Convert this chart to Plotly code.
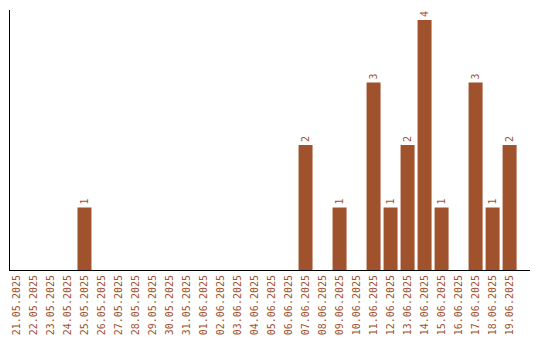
import plotly.graph_objects as go

dates = ["21.05.2025", "22.05.2025", "23.05.2025", "24.05.2025", "25.05.2025",
         "26.05.2025", "27.05.2025", "28.05.2025", "29.05.2025", "30.05.2025",
         "31.05.2025", "01.06.2025", "02.06.2025", "03.06.2025", "04.06.2025",
         "05.06.2025", "06.06.2025", "07.06.2025", "08.06.2025", "09.06.2025",
         "10.06.2025", "11.06.2025", "12.06.2025", "13.06.2025", "14.06.2025",
         "15.06.2025", "16.06.2025", "17.06.2025", "18.06.2025", "19.06.2025"]
counts = [0, 0, 0, 0, 1,
          0, 0, 0, 0, 0,
          0, 0, 0, 0, 0,
          0, 0, 2, 0, 1,
          0, 3, 1, 2, 4,
          1, 0, 3, 1, 2]

color = "#A0522D"
font_family = "DejaVu Sans Mono"

labels = [str(v) if v > 0 else "" for v in counts]

fig = go.Figure(go.Bar(
    x=dates, y=counts,
    marker=dict(color=color, line=dict(width=0)),
    text=labels, textposition="outside", textangle=-90,
    textfont=dict(family=font_family, size=10, color=color),
    constraintext="none", cliponaxis=False,
))

fig.update_layout(
    width=540, height=340,
    margin=dict(l=10, r=10, t=10, b=70, autoexpand=False),
    paper_bgcolor="white", plot_bgcolor="white",
    bargap=3 / 17,
    showlegend=False,
    xaxis=dict(
        type="category", range=[-0.38, 30.2],
        showline=True, linecolor="black", linewidth=1,
        showgrid=False, ticks="", tickangle=-90,
        tickfont=dict(family=font_family, size=10, color=color),
        automargin=False, fixedrange=True,
    ),
    yaxis=dict(
        range=[0, 4.16],
        showline=True, linecolor="black", linewidth=1,
        showgrid=False, zeroline=False, showticklabels=False, ticks="",
        automargin=False, fixedrange=True,
    ),
)

fig.write_html("out.html")
